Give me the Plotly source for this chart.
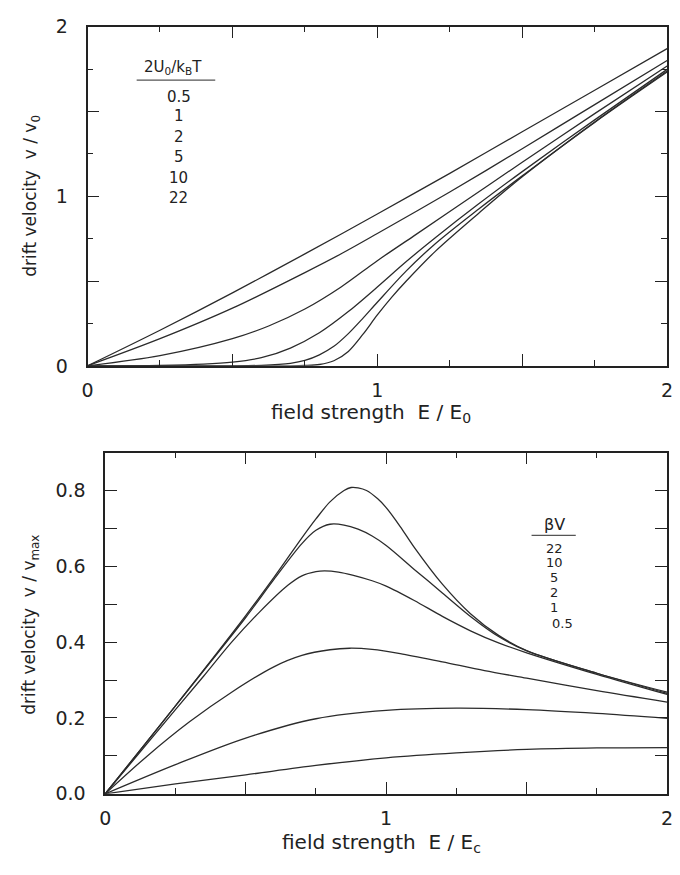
import plotly.graph_objects as go

# ---------------- data: upper panel (v/v0 vs E/E0), labelled by 2U0/kBT ----------------
top_labels = ["0.5", "1", "2", "5", "10", "22"]

top_E_05 = [0, 0.25, 0.5, 0.75, 1.0, 1.25, 1.5, 1.75, 2.0]
top_v_05 = [0, 0.21, 0.43, 0.66, 0.895, 1.135, 1.38, 1.625, 1.87]

top_E_1 = [0, 0.25, 0.5, 0.75, 0.88, 1.0, 1.25, 1.5, 1.75, 2.0]
top_v_1 = [0, 0.16, 0.34, 0.55, 0.665, 0.78, 1.025, 1.28, 1.54, 1.80]

top_E_2 = [0, 0.25, 0.5, 0.625, 0.75, 0.875, 1.0, 1.125, 1.25, 1.5, 1.75, 2.0]
top_v_2 = [0, 0.06, 0.16, 0.235, 0.335, 0.465, 0.62, 0.765, 0.91, 1.2, 1.487, 1.768]

top_E_5 = [0, 0.25, 0.4, 0.5, 0.6, 0.7, 0.8, 0.9, 1.0, 1.1, 1.2, 1.35, 1.5, 1.75, 2.0]
top_v_5 = [0, 0.003, 0.01, 0.022, 0.048, 0.105, 0.195, 0.32, 0.465, 0.615, 0.755, 0.955, 1.145, 1.45, 1.748]

top_E_10 = [0, 0.5, 0.6, 0.7, 0.75, 0.8, 0.85, 0.9, 0.95, 1.0, 1.1, 1.2, 1.35, 1.5, 1.75, 2.0]
top_v_10 = [0, 0.0, 0.003, 0.015, 0.032, 0.065, 0.115, 0.19, 0.28, 0.375, 0.56, 0.72, 0.925, 1.12, 1.438, 1.738]

top_E_22 = [0, 0.7, 0.75, 0.8, 0.85, 0.9, 0.95, 1.0, 1.05, 1.1, 1.2, 1.35, 1.5, 1.75, 2.0]
top_v_22 = [0, 0.0, 0.002, 0.008, 0.03, 0.085, 0.185, 0.30, 0.405, 0.5, 0.675, 0.9, 1.115, 1.435, 1.732]

# ---------------- data: lower panel (v/vmax vs E/Ec), labelled by beta*V ----------------
bot_labels = ["22", "10", "5", "2", "1", "0.5"]

bot_E_22 = [0, 0.25, 0.5, 0.6, 0.7, 0.75, 0.8, 0.85, 0.875, 0.9, 0.93, 0.97, 1.0, 1.05, 1.1, 1.2, 1.3, 1.4, 1.5, 1.75, 2.0]
bot_v_22 = [0, 0.232, 0.47, 0.57, 0.675, 0.725, 0.77, 0.8, 0.808, 0.807, 0.8, 0.778, 0.755, 0.705, 0.65, 0.553, 0.475, 0.418, 0.378, 0.318, 0.268]

bot_E_10 = [0, 0.25, 0.5, 0.6, 0.7, 0.75, 0.8, 0.85, 0.9, 0.95, 1.0, 1.1, 1.2, 1.3, 1.4, 1.5, 1.75, 2.0]
bot_v_10 = [0, 0.232, 0.465, 0.565, 0.66, 0.695, 0.711, 0.709, 0.698, 0.68, 0.655, 0.592, 0.53, 0.468, 0.415, 0.377, 0.318, 0.265]

bot_E_5 = [0, 0.25, 0.35, 0.45, 0.55, 0.65, 0.7, 0.75, 0.78, 0.83, 0.88, 0.95, 1.0, 1.1, 1.2, 1.3, 1.4, 1.5, 1.75, 2.0]
bot_v_5 = [0, 0.222, 0.31, 0.40, 0.48, 0.55, 0.575, 0.586, 0.588, 0.585, 0.577, 0.562, 0.548, 0.51, 0.468, 0.43, 0.398, 0.372, 0.315, 0.262]

bot_E_2 = [0, 0.15, 0.3, 0.45, 0.6, 0.7, 0.8, 0.87, 0.95, 1.05, 1.2, 1.35, 1.5, 1.75, 2.0]
bot_v_2 = [0, 0.1, 0.19, 0.268, 0.335, 0.365, 0.38, 0.384, 0.381, 0.37, 0.348, 0.325, 0.305, 0.272, 0.242]

bot_E_1 = [0, 0.25, 0.5, 0.75, 1.0, 1.25, 1.5, 1.75, 2.0]
bot_v_1 = [0, 0.077, 0.147, 0.198, 0.22, 0.226, 0.222, 0.212, 0.199]

bot_E_05 = [0, 0.25, 0.5, 0.75, 1.0, 1.25, 1.5, 1.75, 2.0]
bot_v_05 = [0, 0.026, 0.05, 0.075, 0.095, 0.108, 0.117, 0.121, 0.122]

# tick positions and labels
x_tickvals = [0, 1, 2]
x_ticktext = ["0", "1", "2"]
x_half_ticks = [0.5, 1.5]
x_quarter_ticks = [0.25, 0.75, 1.25, 1.75]
top_y_tickvals = [0, 1, 2]
top_y_ticktext = ["0", "1", "2"]
top_y_half_ticks = [0.5, 1.5]
top_y_quarter_ticks = [0.25, 0.75, 1.25, 1.75]
bot_y_tickvals = [0, 0.2, 0.4, 0.6, 0.8]
bot_y_ticktext = ["0.0", "0.2", "0.4", "0.6", "0.8"]
bot_y_odd_ticks = [0.1, 0.3, 0.5, 0.7]

# ---------------- figure ----------------
W, H = 680, 875
INK = "#222222"
LINE = "#2b2b2b"
FONT = "DejaVu Sans"


def fx(px):
    return px / W


def fy(py):
    return 1 - py / H


fig = go.Figure()

top_series = [(top_E_05, top_v_05), (top_E_1, top_v_1), (top_E_2, top_v_2),
              (top_E_5, top_v_5), (top_E_10, top_v_10), (top_E_22, top_v_22)]
for (ex, vy), name in zip(top_series, top_labels):
    fig.add_trace(go.Scatter(x=ex, y=vy, mode="lines", name=name, xaxis="x", yaxis="y",
                             line=dict(color=LINE, width=1.3, shape="spline", smoothing=0.9)))

bot_series = [(bot_E_22, bot_v_22), (bot_E_10, bot_v_10), (bot_E_5, bot_v_5),
              (bot_E_2, bot_v_2), (bot_E_1, bot_v_1), (bot_E_05, bot_v_05)]
for (ex, vy), name in zip(bot_series, bot_labels):
    fig.add_trace(go.Scatter(x=ex, y=vy, mode="lines", name=name, xaxis="x2", yaxis="y2",
                             line=dict(color=LINE, width=1.3, shape="spline", smoothing=0.9)))

# empty traces that attach the short-tick overlay axes to their panels
for xa, ya in [("x3", "y"), ("x", "y3"), ("x4", "y2")]:
    fig.add_trace(go.Scatter(x=[None], y=[None], mode="lines", xaxis=xa, yaxis=ya,
                             hoverinfo="skip", showlegend=False))


def axis_style(**kw):
    base = dict(showline=True, linecolor=INK, linewidth=1.6, mirror="allticks",
                ticks="inside", ticklen=12, tickwidth=1.3, tickcolor=INK,
                showgrid=False, zeroline=False, fixedrange=True,
                tickfont=dict(family=FONT, size=19, color=INK))
    base.update(kw)
    return base


def long_minor(vals):
    return dict(ticks="inside", ticklen=12, tickwidth=1.3, tickcolor=INK,
                tickmode="array", tickvals=vals, showgrid=False)


def short_overlay(over, anchor, vals, rng):
    return axis_style(overlaying=over, anchor=anchor, range=rng, tickmode="array",
                      tickvals=vals, ticklen=6, tickwidth=1.2, showticklabels=False)


fig.update_layout(
    width=W, height=H,
    margin=dict(l=0, r=0, t=0, b=0),
    paper_bgcolor="white", plot_bgcolor="white",
    showlegend=False,
    xaxis=axis_style(domain=[fx(83), fx(673)], range=[0, 2], anchor="y",
                     tickmode="array", tickvals=x_tickvals, ticktext=x_ticktext,
                     ticklabelstandoff=7, minor=long_minor(x_half_ticks)),
    yaxis=axis_style(domain=[fy(364), fy(16)], range=[0, 2], anchor="x",
                     tickmode="array", tickvals=top_y_tickvals, ticktext=top_y_ticktext,
                     ticklabelstandoff=14, minor=long_minor(top_y_half_ticks)),
    xaxis2=axis_style(domain=[fx(101), fx(673)], range=[0, 2], anchor="y2",
                      tickmode="array", tickvals=x_tickvals, ticktext=x_ticktext,
                      ticklabelstandoff=7, minor=long_minor(x_half_ticks)),
    yaxis2=axis_style(domain=[fy(803), fy(453)], range=[0, 0.9], anchor="x2",
                      tickmode="array", tickvals=bot_y_tickvals, ticktext=bot_y_ticktext,
                      ticklabelstandoff=14, minor=long_minor(bot_y_odd_ticks)),
    xaxis3=short_overlay("x", "y", x_quarter_ticks, [0, 2]),
    yaxis3=short_overlay("y", "x", top_y_quarter_ticks, [0, 2]),
    xaxis4=short_overlay("x2", "y2", x_quarter_ticks, [0, 2]),
)

ann = []
# axis titles
ann.append(dict(text="field strength\u00a0\u00a0E / E<sub>0</sub>", x=fx(372), y=fy(412),
                font=dict(family=FONT, size=20, color=INK)))
ann.append(dict(text="field strength\u00a0\u00a0E / E<sub>c</sub>", x=fx(382), y=fy(853),
                font=dict(family=FONT, size=20, color=INK)))
ann.append(dict(text="drift velocity\u00a0\u00a0v / v<sub>0</sub>", x=fx(26), y=fy(190),
                textangle=-90, font=dict(family=FONT, size=17, color=INK)))
ann.append(dict(text="drift velocity\u00a0\u00a0v / v<sub>max</sub>", x=fx(25), y=fy(630),
                textangle=-90, font=dict(family=FONT, size=17, color=INK)))

# parameter key, upper panel
ann.append(dict(text="2U<sub>0</sub>/k<sub>B</sub>T", x=fx(170), y=fy(58),
                font=dict(family=FONT, size=15, color=INK)))
top_key_y = [88, 108, 129, 150, 171, 192]
for lab, py in zip(top_labels, top_key_y):
    ann.append(dict(text=lab, x=fx(176), y=fy(py), font=dict(family=FONT, size=15, color=INK)))

# parameter key, lower panel
ann.append(dict(text="\u03b2V", x=fx(558), y=fy(527),
                font=dict(family=FONT, size=16, color=INK)))
bot_key_y = [551, 566, 581, 596, 612, 628]
bot_key_x = [558, 558, 558, 558, 558, 566]
for lab, px, py in zip(bot_labels, bot_key_x, bot_key_y):
    ann.append(dict(text=lab, x=fx(px), y=fy(py), font=dict(family=FONT, size=13, color=INK)))

for a in ann:
    a.update(xref="paper", yref="paper", showarrow=False, xanchor="center", yanchor="middle")
fig.update_layout(annotations=ann)

fig.update_layout(shapes=[
    dict(type="line", xref="paper", yref="paper", x0=fx(133), x1=fx(213), y0=fy(71), y1=fy(71),
         line=dict(color="#555555", width=1.2)),
    dict(type="line", xref="paper", yref="paper", x0=fx(535), x1=fx(580), y0=fy(538), y1=fy(538),
         line=dict(color="#555555", width=1.2)),
])

# the figure is sized to the full window, so the page itself gets no margin
fig.write_html("out.html",
               post_script="document.body.style.margin='0';document.body.style.overflow='hidden';")
